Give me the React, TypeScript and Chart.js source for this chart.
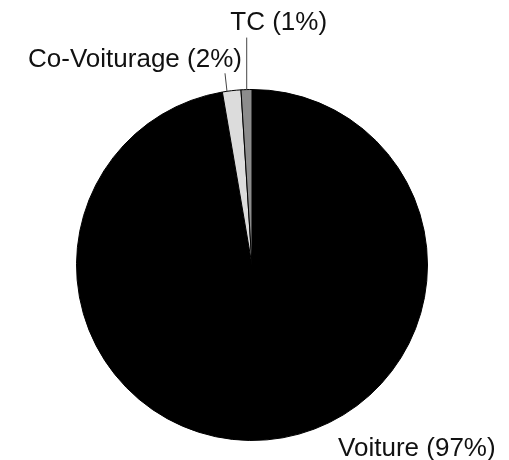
import React, { useEffect, useRef } from "react";
import { Chart, registerables } from "chart.js";

Chart.register(...registerables);

const categories = ["Voiture", "Co-Voiturage", "TC"];
const shares = [97.3, 1.7, 1.0];
const sliceColors = ["#000000", "#dcdcdc", "#8c8c8c"];

// label placement per slice (styling / layout only)
const labelLayout = [
  { f: 0.5, line: null as null | [number, number], tdx: 150, tdy: 16 },
  { f: 0.25, line: [-2, -18] as [number, number], tdx: -90, tdy: -6 },
  { f: 0.52, line: [0, -52] as [number, number], tdx: 32, tdy: -8 },
];

const labelPlugin = {
  id: "pieLabels",
  afterDatasetsDraw(chart: any) {
    const meta = chart.getDatasetMeta(0);
    const ctx = chart.ctx;
    const total = shares.reduce((a, b) => a + b, 0);
    ctx.save();
    ctx.font = "26px 'Liberation Sans', Arial, sans-serif";
    ctx.textAlign = "center";
    ctx.textBaseline = "alphabetic";
    meta.data.forEach((arc: any, i: number) => {
      const p = arc.getProps(["x", "y", "startAngle", "endAngle", "outerRadius"], true);
      const L = labelLayout[i];
      const a = p.startAngle + (p.endAngle - p.startAngle) * L.f;
      const sx = p.x + Math.cos(a) * p.outerRadius;
      const sy = p.y + Math.sin(a) * p.outerRadius;
      let ex = sx;
      let ey = sy;
      if (L.line) {
        ex = sx + L.line[0];
        ey = sy + L.line[1];
        ctx.strokeStyle = "#444444";
        ctx.lineWidth = 1;
        ctx.beginPath();
        ctx.moveTo(sx, sy);
        ctx.lineTo(ex, ey);
        ctx.stroke();
      }
      const pct = Math.round((shares[i] / total) * 100);
      ctx.fillStyle = "#111111";
      ctx.fillText(`${categories[i]} (${pct}%)`, ex + L.tdx, ey + L.tdy);
    });
    ctx.restore();
  },
};

export default function App() {
  const ref = useRef<HTMLCanvasElement | null>(null);
  useEffect(() => {
    if (!ref.current) return;
    const chart = new Chart(ref.current, {
      type: "pie",
      data: {
        labels: categories,
        datasets: [
          {
            data: shares,
            backgroundColor: sliceColors,
            borderColor: "#000000",
            borderWidth: 1,
          },
        ],
      },
      options: {
        animation: false,
        responsive: false,
        maintainAspectRatio: false,
        layout: { padding: { left: 76, right: 81, top: 89, bottom: 19 } },
        plugins: {
          legend: { display: false },
          tooltip: { enabled: false },
        },
      },
      plugins: [labelPlugin],
    });
    return () => chart.destroy();
  }, []);
  return (
    <div style={{ position: "fixed", left: 0, top: 0, width: 509, height: 460, background: "#fff" }}>
      <canvas ref={ref} width={509} height={460} style={{ width: 509, height: 460 }} />
    </div>
  );
}
